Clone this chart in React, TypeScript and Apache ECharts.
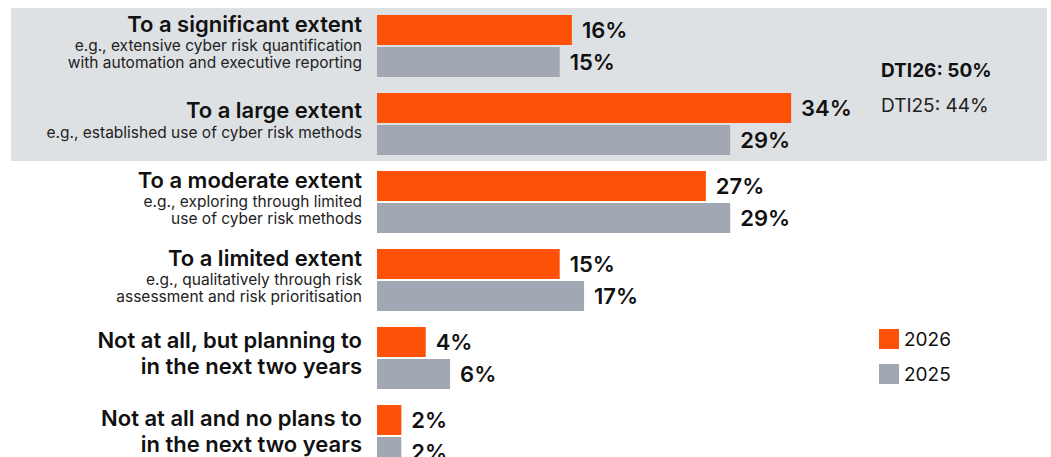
import React, { useEffect, useRef } from "react";
import * as echarts from "echarts";

const categories = ["significant", "large", "moderate", "limited", "planning", "noplans"];
const titleLines: string[][] = [
  ["To a significant extent"],
  ["To a large extent"],
  ["To a moderate extent"],
  ["To a limited extent"],
  ["Not at all, but planning to", "in the next two years"],
  ["Not at all and no plans to", "in the next two years"],
];
const subLines: string[][] = [
  ["e.g., extensive cyber risk quantification", "with automation and executive reporting"],
  ["e.g., established use of cyber risk methods"],
  ["e.g., exploring through limited", "use of cyber risk methods"],
  ["e.g., qualitatively through risk", "assessment and risk prioritisation"],
  [],
  [],
];
const values2026 = [16, 34, 27, 15, 4, 2];
const values2025 = [15, 29, 29, 17, 6, 2];
const seriesNames = ["2026", "2025"];
const dtiLines = ["DTI26: 50%", "DTI25: 44%"];

const FONT = "Inter, 'Liberation Sans', Arial, sans-serif";
const ORANGE = "#fd5108";
const GREY = "#a1a8b3";
const BG = "#dee1e4";

export default function App() {
  const ref = useRef<HTMLDivElement>(null);
  useEffect(() => {
    if (!ref.current) return;
    const chart = echarts.init(ref.current, undefined, { renderer: "svg" });
    const labelStyle = {
      show: true,
      position: "right" as const,
      distance: 10,
      formatter: "{c}%",
      fontFamily: FONT,
      fontSize: 22,
      fontWeight: 600,
      color: "#111",
    };
    chart.setOption({
      animation: false,
      textStyle: { fontFamily: FONT },
      graphic: [
        {
          type: "rect",
          z: -10,
          silent: true,
          shape: { x: 11, y: 8, width: 1036, height: 153 },
          style: { fill: BG },
        },
        {
          type: "text",
          x: 881,
          y: 70,
          style: {
            text: dtiLines[0],
            fontFamily: FONT,
            fontSize: 19,
            fontWeight: "bold",
            fill: "#111",
            verticalAlign: "middle",
          },
        },
        {
          type: "text",
          x: 881,
          y: 105,
          style: {
            text: dtiLines[1],
            fontFamily: FONT,
            fontSize: 19,
            fill: "#222",
            verticalAlign: "middle",
          },
        },
      ],
      legend: {
        left: 874,
        top: 324,
        orient: "vertical",
        itemWidth: 20,
        itemHeight: 20,
        itemGap: 15,
        icon: "rect",
        data: seriesNames,
        textStyle: { fontFamily: FONT, fontSize: 19, color: "#111" },
      },
      grid: { left: 377, top: 7, width: 609, height: 468, containLabel: false },
      xAxis: { type: "value", min: 0, max: 50, show: false },
      yAxis: {
        type: "category",
        data: categories,
        inverse: true,
        axisLine: { show: false },
        axisTick: { show: false },
        splitLine: { show: false },
        axisLabel: {
          margin: 15,
          align: "right",
          padding: [0, 0, 10, 0],
          formatter: (_v: string, i: number) => {
            const parts: string[] = [];
            titleLines[i].forEach((l) => parts.push(`{t|${l}}`));
            subLines[i].forEach((l) => parts.push(`{s|${l}}`));
            return parts.join("\n");
          },
          rich: {
            t: {
              fontFamily: FONT,
              fontSize: 22,
              fontWeight: 600,
              color: "#111",
              lineHeight: 26,
              align: "right",
            },
            s: {
              fontFamily: FONT,
              fontSize: 15.5,
              color: "#222",
              lineHeight: 17.5,
              align: "right",
            },
          },
        },
      },
      series: [
        {
          name: seriesNames[0],
          type: "bar",
          data: values2026,
          barWidth: 30,
          barGap: "6.7%",
          itemStyle: { color: ORANGE },
          label: labelStyle,
        },
        {
          name: seriesNames[1],
          type: "bar",
          data: values2025,
          barWidth: 30,
          barGap: "6.7%",
          itemStyle: { color: GREY },
          label: labelStyle,
        },
      ],
    });
    return () => chart.dispose();
  }, []);
  return (
    <div
      style={{ position: "absolute", left: 0, top: 0, width: 1051, height: 457, overflow: "hidden", background: "#fff" }}
    >
      <div ref={ref} style={{ width: 1051, height: 480 }} />
    </div>
  );
}
